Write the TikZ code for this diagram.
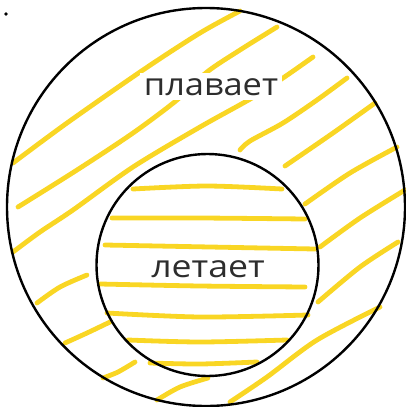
\documentclass[tikz,border=0pt]{standalone}
\usepackage{fontspec}
\setmainfont{Open Sans}
\definecolor{hatch}{RGB}{249,214,36}
\definecolor{txt}{RGB}{45,45,45}
\tikzset{
  hatchline/.style={draw=hatch, line width=4.8pt, line cap=round, line join=round},
  ring/.style={circle, draw=black, line width=2.4pt, inner sep=0pt, minimum size=#1},
  label/.style={fill=white, text=txt, inner xsep=4pt, inner ysep=5pt, font=\fontsize{31}{36}\selectfont},
}
\begin{document}
\begin{tikzpicture}[x=1pt,y=-1pt]
\useasboundingbox (0,0) rectangle (405,407);
% outer ring hatching
\draw[hatchline] plot[smooth] coordinates {(13,163) (67,123) (143,70) (200,33) (240,11)};
\draw[hatchline] plot[smooth] coordinates {(18,207) (77,170) (133,133) (177,100) (207,72) (240,50) (277,27)};
\draw[hatchline] plot[smooth] coordinates {(313,57) (283,78) (252,98) (200,127) (133,167) (73,210) (40,232) (13,252)};
\draw[hatchline] plot[smooth] coordinates {(347,78) (317,100) (283,123) (250,141) (240,150)};
\draw[hatchline] plot[smooth] coordinates {(375,103) (333,133) (285,166)};
\draw[hatchline] plot[smooth] coordinates {(397,147) (350,173) (305,204)};
\draw[hatchline] plot[smooth] coordinates {(405,190) (360,218) (320,247)};
\draw[hatchline] plot[smooth] coordinates {(398,242) (360,267) (318,302)};
\draw[hatchline] plot[smooth] coordinates {(380,307) (317,340) (267,377) (230,402)};
\draw[hatchline] plot[smooth] coordinates {(87,275) (60,287) (37,303)};
\draw[hatchline] plot[smooth] coordinates {(110,322) (87,333) (65,343)};
\draw[hatchline] plot[smooth] coordinates {(135,362) (118,372) (103,378)};
\draw[hatchline] plot[smooth] coordinates {(208,378) (180,387) (157,400)};
% inner hatching
\draw[hatchline] plot[smooth] coordinates {(133,189) (207,186) (282,189)};
\draw[hatchline] plot[smooth] coordinates {(112,218) (200,218) (305,219)};
\draw[hatchline] plot[smooth] coordinates {(105,245) (210,247) (315,249)};
\draw[hatchline] plot[smooth] coordinates {(100,284) (200,286) (305,287)};
\draw[hatchline] plot[smooth] coordinates {(107,313) (200,317) (308,315)};
\draw[hatchline] plot[smooth] coordinates {(128,340) (200,342) (287,340)};
\draw[hatchline] plot[smooth] coordinates {(150,363) (200,364) (257,362)};
% circles
\node[ring=398pt] (outer) at (206,207) {};
\node[ring=222pt] (inner) at (207.5,265) {};
% labels
\node[label, anchor=base] (swim) at (211,95) {\scalebox{1.11}[1]{плавает}};
\node[label, anchor=base, fill=none] (fly) at (208,277) {\scalebox{1.15}[1]{летает}};
% dot
\fill (6,14) circle (1.8pt);
\end{tikzpicture}
\end{document}
